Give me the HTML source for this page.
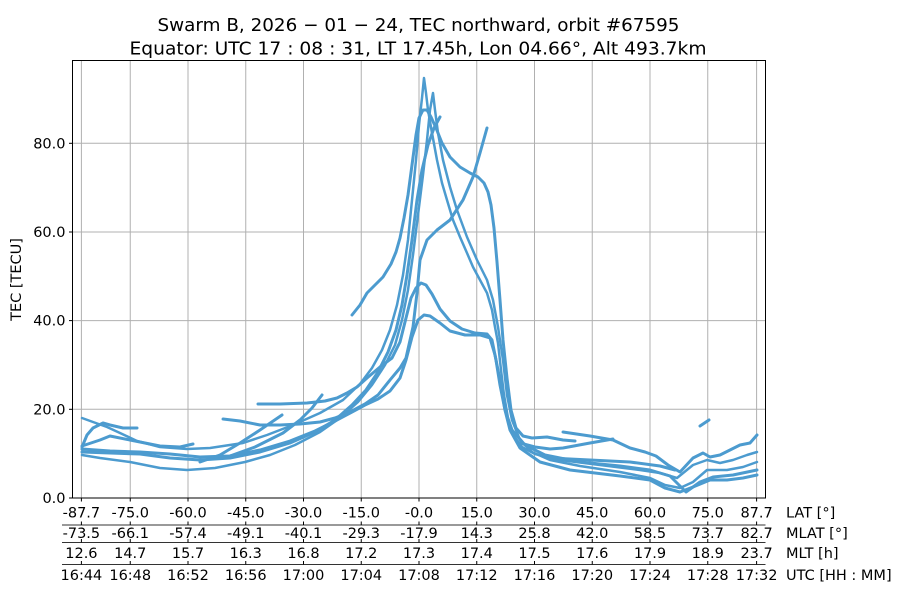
<!DOCTYPE html>
<html>
<head>
<meta charset="utf-8">
<style>
  html, body { margin: 0; padding: 0; background: #ffffff; }
  svg { display: block; }
  text { font-family: "DejaVu Sans", "Liberation Sans", sans-serif; fill: #000; }
</style>
</head>
<body>
<svg width="900" height="600" viewBox="0 0 900 600" xmlns="http://www.w3.org/2000/svg">
  <rect x="0" y="0" width="900" height="600" fill="#ffffff"/>

  <!-- Title -->
  <text x="418.5" y="31" font-size="18" text-anchor="middle" textLength="522" lengthAdjust="spacingAndGlyphs">Swarm B,  2026 − 01 − 24,  TEC northward,  orbit #67595</text>
  <text x="418" y="54.5" font-size="18" text-anchor="middle" textLength="577" lengthAdjust="spacingAndGlyphs">Equator:  UTC 17 : 08 : 31,  LT 17.45h,  Lon 04.66°,  Alt 493.7km</text>

  <!-- Grid -->
  <g stroke="#b0b0b0" stroke-width="1" fill="none">
    <line x1="81.4" y1="60.5" x2="81.4" y2="498"/>
    <line x1="130.25" y1="60.5" x2="130.25" y2="498"/>
    <line x1="188" y1="60.5" x2="188" y2="498"/>
    <line x1="245.75" y1="60.5" x2="245.75" y2="498"/>
    <line x1="303.5" y1="60.5" x2="303.5" y2="498"/>
    <line x1="361.25" y1="60.5" x2="361.25" y2="498"/>
    <line x1="419" y1="60.5" x2="419" y2="498"/>
    <line x1="476.75" y1="60.5" x2="476.75" y2="498"/>
    <line x1="534.5" y1="60.5" x2="534.5" y2="498"/>
    <line x1="592.25" y1="60.5" x2="592.25" y2="498"/>
    <line x1="650" y1="60.5" x2="650" y2="498"/>
    <line x1="707.75" y1="60.5" x2="707.75" y2="498"/>
    <line x1="756.6" y1="60.5" x2="756.6" y2="498"/>
    <line x1="72.5" y1="409.3" x2="765.5" y2="409.3"/>
    <line x1="72.5" y1="320.6" x2="765.5" y2="320.6"/>
    <line x1="72.5" y1="232" x2="765.5" y2="232"/>
    <line x1="72.5" y1="143.3" x2="765.5" y2="143.3"/>
  </g>

  <!-- Data -->
  <g stroke="#4c9bcf" stroke-width="3" fill="none" stroke-linecap="round" stroke-linejoin="round">
    <polyline points="352,315 360,305 367,293 375,285 383,277 391,264 396,252 400,238 404,218 408,195 412,165 416,135 419,118 423,110 427,110 431,117 436,128 442,143 450,157 460,167 470,173 478,177 484,183 488,192 491,205 494,228 497,262 500,300 503,340 507,378 511,410 516,428 523,436 532,438 547,437 563,440 575,441"/>
    <polyline stroke-width="2.5" points="82,418 93,422 107,427 120,433 137,441 160,447 187,449 210,448 243,443 267,435 293,425 320,413 343,400 360,384 372,368 382,350 390,330 397,305 403,275 408,240 412,200 416,160 419,125 422,98 424,78 426,93 428,110 432,133 437,160 442,183 447,200 453,220 460,237 467,253 473,267 480,280 487,293 492,310 495,327 498,343 501,370 504,395 508,418 514,436 522,447 535,454 560,460 600,465 640,470 660,473 677,478 693,465 707,460 720,463 733,460 747,455 757,452"/>
    <polyline stroke-width="2.5" points="82,455 100,458 130,462 160,468 187,470 215,468 245,462 270,455 295,445 320,432 340,418 358,402 372,385 385,365 395,345 402,320 408,290 413,255 418,215 423,175 427,140 430,110 433,93 435,110 438,133 443,160 450,187 457,210 467,237 477,260 487,280 493,300 498,327 503,360 507,395 512,420 520,440 532,452 550,460 580,466 620,472 650,478 665,485 680,488 693,482 707,470 727,470 743,467 757,462"/>
    <polyline points="82,452 110,453 140,454 170,458 200,460 230,458 260,452 290,443 315,432 335,420 352,405 366,390 378,372 388,352 396,330 402,305 407,275 412,240 417,200 422,170 428,145 434,128 440,117"/>
    <polyline points="258,404 280,404 307,403 325,401 337,398 347,393 357,387 367,378 380,367 392,358 400,342 406,318 411,298 416,288 421,283 426,285 432,294 440,309 450,321 462,329 475,333 487,334 492,340 496,360 500,385 505,410 512,430 525,445 545,455 580,462 620,466 650,470 670,476 686,492 700,482 713,477 733,475 757,470"/>
    <polyline points="82,449 110,451 140,452 170,454 200,457 230,456 260,450 290,441 315,431 335,421 352,412 365,405 378,399 390,391 400,378 406,360 412,337 418,320 424,315 430,316 440,323 450,331 465,335 480,335 490,338 495,355 500,380 505,410 510,430 520,448 540,462 570,470 620,476 650,480 665,488 680,492 693,487 710,480 727,480 743,478 757,475"/>
    <polyline points="223,419 240,421 260,425 280,425 300,424 320,422 335,418 350,412 365,404 378,395 390,380 400,368 406,358 413,327 417,293 420,260 427,240 437,230 450,220 463,200 473,177 480,153 487,128"/>
    <polyline points="82,447 87,435 93,428 103,423 110,425 123,428 137,428"/>
    <polyline points="82,446 100,440 110,436 130,440 160,446 180,447 193,444"/>
    <polyline points="200,462 220,455 240,443 260,430 282,415"/>
    <polyline points="230,456 255,447 283,433 300,420 312,408 322,395"/>
    <polyline points="563,432 590,436 613,440 630,448 645,452 656,456 668,465 680,472 693,458 703,453 710,457 720,455 730,450 740,445 750,443 757,435"/>
    <polyline points="550,458 590,460 630,462 660,466 675,470"/>
    <polyline points="520,443 535,447 550,449 563,448 590,443 613,439"/>
    <polyline points="700,426 709,420"/>
  </g>

  <!-- Axes spines -->
  <rect x="72.5" y="60.5" width="693" height="437.5" fill="none" stroke="#000" stroke-width="1"/>

  <!-- Y ticks -->
  <g stroke="#000" stroke-width="1">
    <line x1="69" y1="498" x2="72.5" y2="498"/>
    <line x1="69" y1="409.3" x2="72.5" y2="409.3"/>
    <line x1="69" y1="320.6" x2="72.5" y2="320.6"/>
    <line x1="69" y1="232" x2="72.5" y2="232"/>
    <line x1="69" y1="143.3" x2="72.5" y2="143.3"/>
  </g>
  <g font-size="14.5" text-anchor="end">
    <text x="65.5" y="503">0.0</text>
    <text x="65.5" y="414.3">20.0</text>
    <text x="65.5" y="325.6">40.0</text>
    <text x="65.5" y="237">60.0</text>
    <text x="65.5" y="148.3">80.0</text>
  </g>
  <text transform="translate(21,279.5) rotate(-90)" font-size="14.5" text-anchor="middle">TEC [TECU]</text>

  <!-- X ticks and secondary axis lines -->
  <g stroke="#333" stroke-width="1">
    <line x1="62" y1="525" x2="765.5" y2="525"/>
    <line x1="62" y1="542.5" x2="765.5" y2="542.5"/>
    <line x1="62" y1="564.5" x2="765.5" y2="564.5"/>
  </g>
  <g stroke="#000" stroke-width="1">
    <path d="M81.4 498v3.5M130.25 498v3.5M188 498v3.5M245.75 498v3.5M303.5 498v3.5M361.25 498v3.5M419 498v3.5M476.75 498v3.5M534.5 498v3.5M592.25 498v3.5M650 498v3.5M707.75 498v3.5M756.6 498v3.5"/>
    <path d="M81.4 525v-3.5M130.25 525v-3.5M188 525v-3.5M245.75 525v-3.5M303.5 525v-3.5M361.25 525v-3.5M419 525v-3.5M476.75 525v-3.5M534.5 525v-3.5M592.25 525v-3.5M650 525v-3.5M707.75 525v-3.5M756.6 525v-3.5"/>
    <path d="M81.4 542.5v-3.5M130.25 542.5v-3.5M188 542.5v-3.5M245.75 542.5v-3.5M303.5 542.5v-3.5M361.25 542.5v-3.5M419 542.5v-3.5M476.75 542.5v-3.5M534.5 542.5v-3.5M592.25 542.5v-3.5M650 542.5v-3.5M707.75 542.5v-3.5M756.6 542.5v-3.5"/>
    <path d="M81.4 564.5v-3.5M130.25 564.5v-3.5M188 564.5v-3.5M245.75 564.5v-3.5M303.5 564.5v-3.5M361.25 564.5v-3.5M419 564.5v-3.5M476.75 564.5v-3.5M534.5 564.5v-3.5M592.25 564.5v-3.5M650 564.5v-3.5M707.75 564.5v-3.5M756.6 564.5v-3.5"/>
  </g>

  <g font-size="14.5" text-anchor="middle">
    <text x="81.4" y="517.5">-87.7</text>
    <text x="130.25" y="517.5">-75.0</text>
    <text x="188" y="517.5">-60.0</text>
    <text x="245.75" y="517.5">-45.0</text>
    <text x="303.5" y="517.5">-30.0</text>
    <text x="361.25" y="517.5">-15.0</text>
    <text x="419" y="517.5">-0.0</text>
    <text x="476.75" y="517.5">15.0</text>
    <text x="534.5" y="517.5">30.0</text>
    <text x="592.25" y="517.5">45.0</text>
    <text x="650" y="517.5">60.0</text>
    <text x="707.75" y="517.5">75.0</text>
    <text x="756.6" y="517.5">87.7</text>
    <text x="81.4" y="538">-73.5</text>
    <text x="130.25" y="538">-66.1</text>
    <text x="188" y="538">-57.4</text>
    <text x="245.75" y="538">-49.1</text>
    <text x="303.5" y="538">-40.1</text>
    <text x="361.25" y="538">-29.3</text>
    <text x="419" y="538">-17.9</text>
    <text x="476.75" y="538">14.3</text>
    <text x="534.5" y="538">25.8</text>
    <text x="592.25" y="538">42.0</text>
    <text x="650" y="538">58.5</text>
    <text x="707.75" y="538">73.7</text>
    <text x="756.6" y="538">82.7</text>
    <text x="81.4" y="558">12.6</text>
    <text x="130.25" y="558">14.7</text>
    <text x="188" y="558">15.7</text>
    <text x="245.75" y="558">16.3</text>
    <text x="303.5" y="558">16.8</text>
    <text x="361.25" y="558">17.2</text>
    <text x="419" y="558">17.3</text>
    <text x="476.75" y="558">17.4</text>
    <text x="534.5" y="558">17.5</text>
    <text x="592.25" y="558">17.6</text>
    <text x="650" y="558">17.9</text>
    <text x="707.75" y="558">18.9</text>
    <text x="756.6" y="558">23.7</text>
    <text x="81.4" y="580">16:44</text>
    <text x="130.25" y="580">16:48</text>
    <text x="188" y="580">16:52</text>
    <text x="245.75" y="580">16:56</text>
    <text x="303.5" y="580">17:00</text>
    <text x="361.25" y="580">17:04</text>
    <text x="419" y="580">17:08</text>
    <text x="476.75" y="580">17:12</text>
    <text x="534.5" y="580">17:16</text>
    <text x="592.25" y="580">17:20</text>
    <text x="650" y="580">17:24</text>
    <text x="707.75" y="580">17:28</text>
    <text x="756.6" y="580">17:32</text>
  </g>

  <g font-size="14.5" text-anchor="start">
    <text x="786" y="517.5">LAT [°]</text>
    <text x="786" y="538">MLAT [°]</text>
    <text x="786" y="558">MLT [h]</text>
    <text x="786" y="580">UTC [HH : MM]</text>
  </g>
</svg>
</body>
</html>
